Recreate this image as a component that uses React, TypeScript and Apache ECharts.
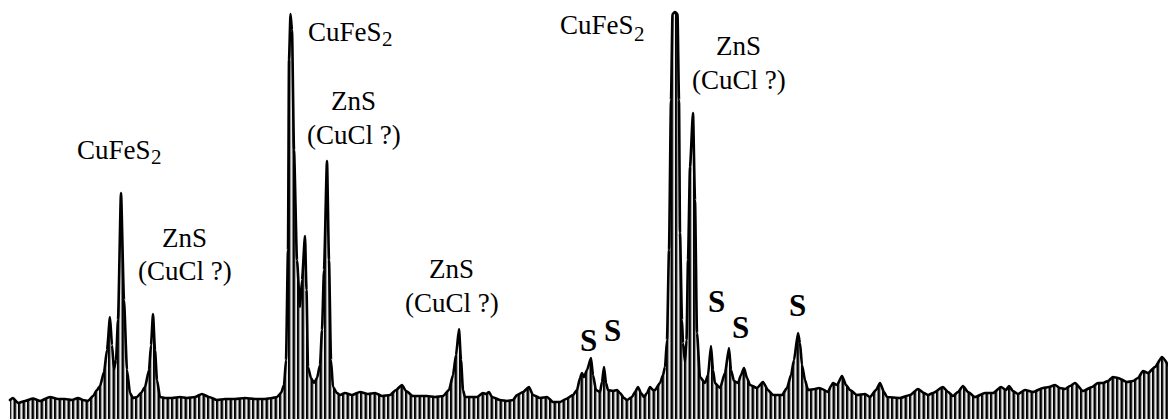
import React, { useEffect, useRef } from "react";
import * as echarts from "echarts";

// Diffraction pattern: 2θ (degrees) and intensity (counts)
const twoTheta = [
  10.0, 10.15, 10.4, 10.75, 11.15, 11.5, 12.0, 12.4, 12.75, 13.1, 13.4, 13.65, 13.9, 14.15, 14.35, 14.5, 14.7, 14.85,
  15.0, 15.1, 15.2, 15.3, 15.4, 15.55, 15.7, 15.85, 16.0, 16.15, 16.35, 16.55, 16.75, 16.95, 17.05, 17.15, 17.25, 17.35,
  17.5, 17.75, 18.1, 18.5, 18.85, 19.25, 19.6, 19.95, 20.35, 20.75, 21.25, 21.75, 22.25, 22.75, 23.1, 23.35, 23.55, 23.7,
  23.8, 23.9, 23.95, 24.025, 24.1, 24.2, 24.35, 24.5, 24.6, 24.75, 24.825, 24.9, 25.05, 25.2, 25.35, 25.5, 25.6, 25.7,
  25.85, 25.95, 26.05, 26.15, 26.35, 26.5, 26.75, 27.1, 27.5, 27.9, 28.25, 28.6, 29.0, 29.3, 29.6, 29.8, 30.15, 30.5,
  30.85, 31.25, 31.65, 31.95, 32.15, 32.3, 32.45, 32.55, 32.65, 32.75, 33.05, 33.35, 33.65, 33.8, 33.95, 34.1, 34.5, 34.85,
  35.15, 35.35, 35.65, 35.95, 36.15, 36.5, 36.85, 37.15, 37.5, 37.8, 38.15, 38.35, 38.5, 38.6, 38.7, 38.85, 39.05, 39.15,
  39.3, 39.5, 39.6, 39.7, 39.8, 39.9, 40.15, 40.35, 40.5, 40.7, 40.85, 41.1, 41.25, 41.4, 41.55, 41.7, 41.85, 42.0,
  42.15, 42.25, 42.5, 42.65, 42.75, 42.85, 42.95, 43.05, 43.125, 43.25, 43.375, 43.45, 43.5, 43.6, 43.65, 43.75, 43.825, 43.9,
  44.0, 44.15, 44.25, 44.35, 44.5, 44.75, 44.9, 45.05, 45.15, 45.25, 45.5, 45.75, 45.95, 46.05, 46.2, 46.4, 46.55, 46.7,
  46.85, 47.0, 47.35, 47.65, 47.9, 48.15, 48.6, 48.85, 49.05, 49.2, 49.4, 49.5, 49.6, 49.75, 49.9, 50.25, 50.45, 50.6,
  50.9, 51.05, 51.15, 51.35, 51.6, 51.8, 52.0, 52.35, 52.75, 53.0, 53.3, 53.5, 53.7, 53.85, 54.5, 55.0, 55.4, 55.7,
  55.9, 56.15, 56.65, 56.9, 57.15, 57.4, 57.65, 57.9, 58.25, 58.75, 59.15, 59.55, 59.8, 59.95, 60.15, 60.4, 60.75, 61.15,
  61.65, 61.95, 62.25, 62.5, 62.75, 63.0, 63.25, 63.65, 64.1, 64.4, 64.65, 64.9, 65.15, 65.4, 65.85, 66.15, 66.4, 66.65,
  66.9, 67.25, 67.6, 67.9,
];

const counts = [
  190, 210, 160, 180, 205, 180, 220, 200, 200, 190, 210, 190, 180, 230, 290, 330, 470, 690,
  1020, 740, 500, 590, 990, 2260, 1190, 490, 260, 210, 220, 260, 320, 490, 740, 1050, 690, 390,
  220, 210, 210, 220, 210, 220, 250, 220, 190, 200, 200, 210, 200, 200, 210, 220, 260, 340,
  590, 1690, 3590, 4050, 3890, 2690, 1590, 1120, 1390, 1830, 1290, 520, 410, 360, 410, 540, 890, 1490,
  2580, 1590, 590, 320, 260, 240, 260, 240, 270, 250, 260, 230, 240, 290, 340, 280, 230, 230,
  230, 220, 230, 290, 440, 640, 900, 590, 290, 220, 220, 220, 260, 250, 270, 220, 190, 180,
  190, 240, 270, 320, 240, 210, 220, 170, 170, 200, 240, 290, 410, 460, 420, 490, 610, 440,
  290, 270, 370, 520, 360, 290, 280, 290, 260, 210, 190, 220, 270, 320, 260, 220, 260, 320,
  290, 290, 360, 440, 520, 790, 1690, 3190, 4050, 4070, 4050, 3190, 1860, 990, 760, 570, 790, 1590,
  2520, 3060, 2190, 860, 420, 360, 440, 730, 490, 360, 310, 460, 710, 490, 380, 360, 440, 510,
  410, 340, 310, 370, 290, 240, 240, 310, 440, 590, 860, 760, 540, 390, 290, 300, 310, 300,
  270, 330, 360, 340, 430, 340, 290, 240, 250, 220, 290, 360, 270, 220, 210, 240, 300, 260,
  240, 260, 320, 270, 230, 270, 330, 270, 220, 260, 260, 320, 290, 330, 280, 250, 290, 270,
  310, 320, 340, 310, 300, 330, 360, 280, 320, 360, 360, 380, 420, 410, 370, 380, 410, 480,
  460, 520, 620, 540,
];

// Annotations (x = left or centre, y = vertical middle of the text)
const phaseLabels = [
  { text: "CuFeS", sub: "2", x: 77, y: 149, subX: 151, subY: 156 },
  { text: "CuFeS", sub: "2", x: 308, y: 31, subX: 382, subY: 38 },
  { text: "CuFeS", sub: "2", x: 560, y: 24, subX: 634, subY: 33 },
];
const zincLabels = [
  { x: 185, y1: 237, y2: 270 },
  { x: 354, y1: 100, y2: 134 },
  { x: 452, y1: 268, y2: 302 },
  { x: 739, y1: 45, y2: 79 },
];
const sulfurLabels = [
  { x: 589, y: 340 },
  { x: 613, y: 330 },
  { x: 717, y: 301 },
  { x: 741, y: 327 },
  { x: 798, y: 305 },
];

function makeHatch(): HTMLCanvasElement {
  const c = document.createElement("canvas");
  c.width = 9;
  c.height = 4;
  const ctx = c.getContext("2d")!;
  const cols = ["#000", "#1a1a1a", "#9a9a9a", "#e6e6e6", "#7a7a7a", "#000", "#262626", "#b0b0b0", "#ececec"];
  cols.forEach((col, i) => {
    ctx.fillStyle = col;
    ctx.fillRect(i, 0, 1, 4);
  });
  return c;
}

const FAMILY = '"Liberation Serif", "Times New Roman", serif';
const measureCtx = document.createElement("canvas").getContext("2d")!;
function measure(text: string, font: string) {
  measureCtx.font = font;
  return measureCtx.measureText(text).width;
}

function txt(text: string, x: number, y: number, size: number, centred: boolean, weight = "") {
  const font = `${weight ? weight + " " : ""}${size}px ${FAMILY}`;
  const w = centred ? measure(text, font) : 0;
  return {
    type: "text",
    x: Math.round(x - w / 2),
    y: Math.round(y - size / 2),
    style: { text, fill: "#000", font },
  };
}

export default function App() {
  const ref = useRef<HTMLDivElement>(null);

  useEffect(() => {
    if (!ref.current) return;
    const chart = echarts.init(ref.current, null, { renderer: "svg" });
    const hatch = makeHatch();
    const data = twoTheta.map((t, i) => [t, counts[i]]);

    const graphics: any[] = [];
    phaseLabels.forEach((l) => {
      graphics.push(txt(l.text, l.x, l.y, 27, false));
      graphics.push(txt(l.sub, l.subX, l.subY, 21, false));
    });
    zincLabels.forEach((l) => {
      graphics.push(txt("ZnS", l.x, l.y1, 27, true));
      graphics.push(txt("(CuCl ?)", l.x, l.y2, 27, true));
    });
    sulfurLabels.forEach((l) => {
      graphics.push(txt("S", l.x, l.y, 31, true, "bold"));
    });

    chart.setOption({
      animation: false,
      backgroundColor: "#fff",
      textStyle: { fontFamily: "Liberation Serif" },
      grid: { left: 10, right: 0, top: 0, bottom: 0, containLabel: false },
      xAxis: { type: "value", min: 10, max: 67.9, show: false },
      yAxis: { type: "value", min: 0, max: 4190, show: false },
      series: [
        {
          type: "line",
          data,
          symbol: "none",
          smooth: 0.2,
          smoothMonotone: "x",
          lineStyle: { color: "#000", width: 2.6, join: "round", cap: "round" },
          areaStyle: {
            color: { image: hatch, repeat: "repeat", imageWidth: 9, imageHeight: 4 } as any,
            opacity: 1,
          },
          z: 2,
        },
      ],
      graphic: graphics,
    });
    return () => chart.dispose();
  }, []);

  return (
    <div
      ref={ref}
      style={{ position: "fixed", left: 0, top: 0, width: 1168, height: 419, background: "#fff" }}
    />
  );
}
